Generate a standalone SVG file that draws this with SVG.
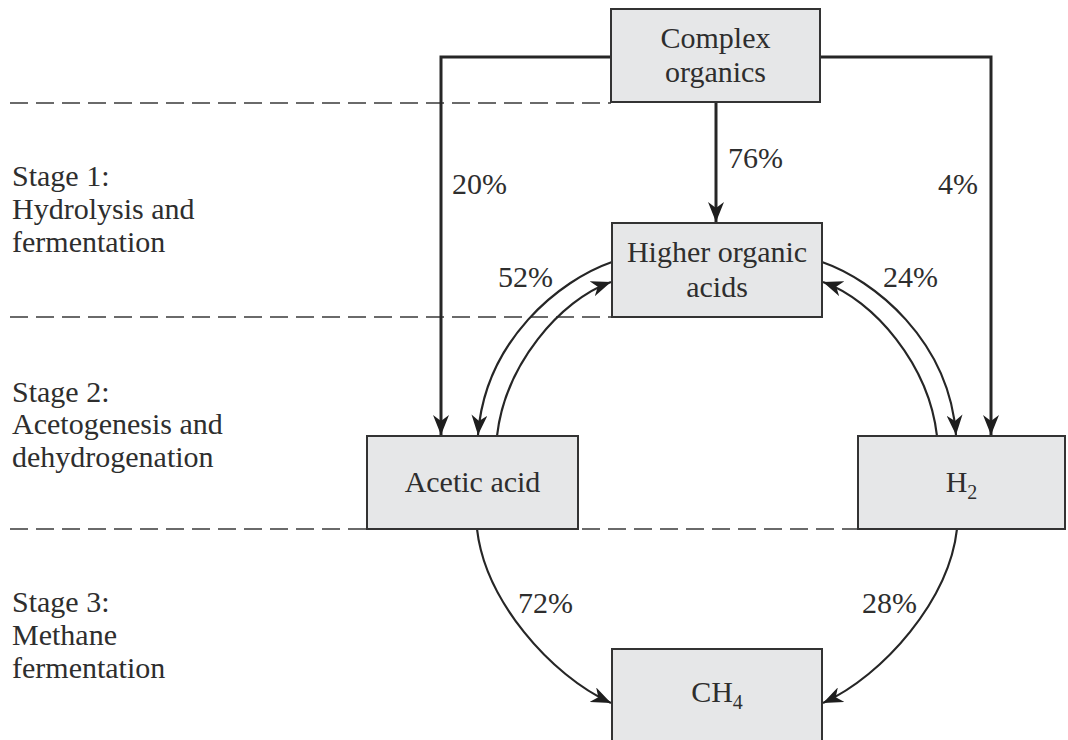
<svg xmlns="http://www.w3.org/2000/svg" width="1068" height="740" viewBox="0 0 1068 740">
  <style>
    .bg { fill: #ffffff; }
    .box { fill: #e6e7e8; stroke: #333333; stroke-width: 2; }
    .t { font-family: "Liberation Serif", "Times New Roman", serif; font-size: 30px; fill: #2e2e2e; }
    .c { text-anchor: middle; }
    .dash { stroke: #3a3a3a; stroke-width: 1.6; stroke-dasharray: 18 8; fill: none; }
    .line { stroke: #262626; stroke-width: 3; fill: none; }
    .curve { stroke: #262626; stroke-width: 2.2; fill: none; }
  </style>
  <defs>
    <marker id="ah" markerUnits="userSpaceOnUse" viewBox="0 0 20 16" refX="20" refY="8" markerWidth="20" markerHeight="16" orient="auto">
      <path d="M0,0 L20,8 L0,16 L6,8 Z" fill="#1e1e1e"/>
    </marker>
  </defs>
  <rect class="bg" x="0" y="0" width="1068" height="740"/>

  <g id="stage-dividers">
    <line class="dash" x1="10" y1="103" x2="611" y2="103"/>
    <line class="dash" x1="10" y1="317" x2="612" y2="317"/>
    <line class="dash" x1="10" y1="529" x2="858" y2="529"/>
  </g>

  <g id="stage-labels">
    <text class="t" x="12" y="186">Stage 1:</text>
    <text class="t" x="12" y="219">Hydrolysis and</text>
    <text class="t" x="12" y="252">fermentation</text>
    <text class="t" x="12" y="402">Stage 2:</text>
    <text class="t" x="12" y="434">Acetogenesis and</text>
    <text class="t" x="12" y="467">dehydrogenation</text>
    <text class="t" x="12" y="612">Stage 3:</text>
    <text class="t" x="12" y="645">Methane</text>
    <text class="t" x="12" y="678">fermentation</text>
  </g>

  <g id="connectors">
    <path class="line" d="M611,57 H441 V435" marker-end="url(#ah)"/>
    <path class="line" d="M820,57 H991 V435" marker-end="url(#ah)"/>
    <path class="line" d="M716,102 V222" marker-end="url(#ah)"/>
    <path class="curve" d="M612,262 C560,280 485,340 478,435" marker-end="url(#ah)"/>
    <path class="curve" d="M497,436 C505,365 560,300 611,282" marker-end="url(#ah)"/>
    <path class="curve" d="M822,262 C874,280 949,340 956,435" marker-end="url(#ah)"/>
    <path class="curve" d="M937,436 C929,365 874,300 823,282" marker-end="url(#ah)"/>
    <path class="curve" d="M477,529 C485,600 550,675 611,703" marker-end="url(#ah)"/>
    <path class="curve" d="M957,529 C949,600 884,675 823,703" marker-end="url(#ah)"/>
  </g>

  <g id="connector-labels">
    <text class="t" x="452" y="194">20%</text>
    <text class="t" x="728" y="168">76%</text>
    <text class="t" x="938" y="194">4%</text>
    <text class="t" x="498" y="287">52%</text>
    <text class="t" x="883" y="287">24%</text>
    <text class="t" x="518" y="613">72%</text>
    <text class="t" x="862" y="613">28%</text>
  </g>

  <g id="complex-organics">
    <rect class="box" x="611" y="9" width="209" height="93"/>
    <text class="t c" x="715.5" y="48">Complex</text>
    <text class="t c" x="715.5" y="82">organics</text>
  </g>

  <g id="higher-organic-acids">
    <rect class="box" x="612" y="223" width="210" height="94"/>
    <text class="t c" x="717" y="262">Higher organic</text>
    <text class="t c" x="717" y="297">acids</text>
  </g>

  <g id="acetic-acid">
    <rect class="box" x="367" y="436" width="211" height="93"/>
    <text class="t c" x="472.5" y="492">Acetic acid</text>
  </g>

  <g id="h2">
    <rect class="box" x="858" y="436" width="207" height="93"/>
    <text class="t c" x="961.5" y="492">H<tspan font-size="20" dy="7">2</tspan></text>
  </g>

  <g id="ch4">
    <rect class="box" x="612" y="649" width="210" height="100"/>
    <text class="t c" x="717" y="702">CH<tspan font-size="20" dy="7">4</tspan></text>
  </g>
</svg>
